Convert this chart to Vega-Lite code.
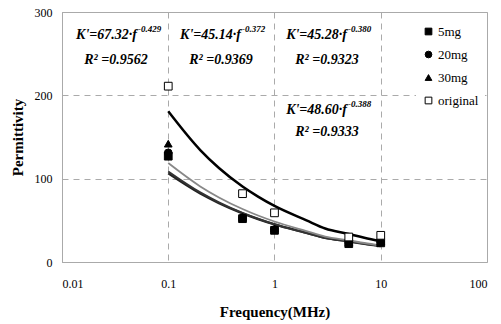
{
  "$schema": "https://vega.github.io/schema/vega-lite/v6.json",
  "width": 425,
  "height": 250,
  "autosize": "none",
  "padding": {"left": 62, "top": 12, "right": 14, "bottom": 62},
  "background": "white",
  "config": {
    "font": "Liberation Serif, Times New Roman, DejaVu Serif, serif",
    "view": {"stroke": "#aaaaaa", "strokeWidth": 1},
    "axis": {"domainColor": "#aaaaaa", "gridColor": "#aaaaaa", "gridDash": [6, 5], "ticks": false, "labelFont": "Liberation Serif, Times New Roman, serif", "labelFontSize": 12, "labelColor": "black", "titleFont": "Liberation Serif, Times New Roman, serif", "titleFontSize": 15, "titleFontWeight": "bold", "titleColor": "black"},
    "legend": {"labelFont": "Liberation Serif, Times New Roman, serif", "labelFontSize": 13, "labelColor": "black"}
  },
  "datasets": {
    "points": [
      {"series": "5mg", "f": 0.1, "v": 127}, {"series": "5mg", "f": 0.5, "v": 52}, {"series": "5mg", "f": 1, "v": 38}, {"series": "5mg", "f": 5, "v": 22}, {"series": "5mg", "f": 10, "v": 23},
      {"series": "20mg", "f": 0.1, "v": 131}, {"series": "20mg", "f": 0.5, "v": 53}, {"series": "20mg", "f": 1, "v": 39}, {"series": "20mg", "f": 5, "v": 23}, {"series": "20mg", "f": 10, "v": 24},
      {"series": "30mg", "f": 0.1, "v": 142}, {"series": "30mg", "f": 0.5, "v": 54}, {"series": "30mg", "f": 1, "v": 40}, {"series": "30mg", "f": 5, "v": 24}, {"series": "30mg", "f": 10, "v": 25},
      {"series": "original", "f": 0.1, "v": 211}, {"series": "original", "f": 0.5, "v": 82}, {"series": "original", "f": 1, "v": 59}, {"series": "original", "f": 5, "v": 30}, {"series": "original", "f": 10, "v": 32}
    ],
    "fits": [
      {"curve": "A", "f": 0.1, "v": 180.8}, {"curve": "A", "f": 0.2, "v": 134.3}, {"curve": "A", "f": 0.3, "v": 112.8}, {"curve": "A", "f": 0.5, "v": 90.6}, {"curve": "A", "f": 0.7, "v": 78.5}, {"curve": "A", "f": 1, "v": 67.3}, {"curve": "A", "f": 2, "v": 50.0}, {"curve": "A", "f": 3, "v": 40.2}, {"curve": "A", "f": 5, "v": 33.7}, {"curve": "A", "f": 7, "v": 29.2}, {"curve": "A", "f": 10, "v": 25.1},
      {"curve": "B", "f": 0.1, "v": 106.3}, {"curve": "B", "f": 0.2, "v": 82.1}, {"curve": "B", "f": 0.3, "v": 70.6}, {"curve": "B", "f": 0.5, "v": 58.4}, {"curve": "B", "f": 0.7, "v": 51.5}, {"curve": "B", "f": 1, "v": 45.1}, {"curve": "B", "f": 2, "v": 34.9}, {"curve": "B", "f": 3, "v": 28.8}, {"curve": "B", "f": 5, "v": 24.8}, {"curve": "B", "f": 7, "v": 21.9}, {"curve": "B", "f": 10, "v": 19.2},
      {"curve": "C", "f": 0.1, "v": 108.6}, {"curve": "C", "f": 0.2, "v": 83.5}, {"curve": "C", "f": 0.3, "v": 71.6}, {"curve": "C", "f": 0.5, "v": 58.9}, {"curve": "C", "f": 0.7, "v": 51.9}, {"curve": "C", "f": 1, "v": 45.3}, {"curve": "C", "f": 2, "v": 34.8}, {"curve": "C", "f": 3, "v": 28.7}, {"curve": "C", "f": 5, "v": 24.6}, {"curve": "C", "f": 7, "v": 21.6}, {"curve": "C", "f": 10, "v": 18.9},
      {"curve": "D", "f": 0.1, "v": 118.7}, {"curve": "D", "f": 0.2, "v": 90.7}, {"curve": "D", "f": 0.3, "v": 77.5}, {"curve": "D", "f": 0.5, "v": 63.6}, {"curve": "D", "f": 0.7, "v": 55.8}, {"curve": "D", "f": 1, "v": 48.6}, {"curve": "D", "f": 2, "v": 37.1}, {"curve": "D", "f": 3, "v": 30.5}, {"curve": "D", "f": 5, "v": 26.0}, {"curve": "D", "f": 7, "v": 22.8}, {"curve": "D", "f": 10, "v": 19.9}
    ],
    "eqs": [
      {"f": 0.0508, "v": 272.4, "main": "K'=67.32·f", "sup": "-0.429"},
      {"f": 0.4838, "v": 272.4, "main": "K'=45.14·f", "sup": "-0.372"},
      {"f": 4.813, "v": 272.4, "main": "K'=45.28·f", "sup": "-0.380"},
      {"f": 4.813, "v": 182.4, "main": "K'=48.60·f", "sup": "-0.388"}
    ],
    "r2": [
      {"f": 0.0322, "v": 242.4, "text": "R² =0.9562"},
      {"f": 0.3137, "v": 242.4, "text": "R² =0.9369"},
      {"f": 3.12, "v": 242.4, "text": "R² =0.9323"},
      {"f": 3.12, "v": 156, "text": "R² =0.9333"}
    ]
  },
  "layer": [
    {
      "data": {"name": "fits"},
      "mark": {"type": "line", "interpolate": "monotone"},
      "encoding": {
        "x": {"field": "f", "type": "quantitative", "scale": {"type": "log", "domain": [0.01, 100]}, "axis": {"title": "Frequency(MHz)", "values": [0.01, 0.1, 1, 10, 100], "labelExpr": "datum.value >= 1 ? format(datum.value, 'd') : format(datum.value, '.2~f')", "labelPadding": 16, "titlePadding": 15, "domain": true}},
        "y": {"field": "v", "type": "quantitative", "scale": {"domain": [0, 300]}, "axis": {"title": "Permittivity", "values": [0, 100, 200, 300], "labelPadding": 10, "titlePadding": 9}},
        "detail": {"field": "curve"},
        "stroke": {"field": "curve", "type": "nominal", "scale": {"domain": ["A", "B", "C", "D"], "range": ["#000000", "#222222", "#333333", "#888888"]}, "legend": null},
        "strokeWidth": {"field": "curve", "type": "nominal", "scale": {"domain": ["A", "B", "C", "D"], "range": [2.5, 1.8, 1.8, 1.5]}, "legend": null}
      }
    },
    {
      "data": {"name": "points"},
      "mark": {"type": "point", "filled": true, "stroke": "black", "strokeWidth": 1, "opacity": 1, "size": 60},
      "encoding": {
        "x": {"field": "f", "type": "quantitative"},
        "y": {"field": "v", "type": "quantitative"},
        "shape": {"field": "series", "type": "nominal", "scale": {"domain": ["5mg", "20mg", "30mg", "original"], "range": ["square", "circle", "triangle-up", "square"]}, "legend": {"title": null, "orient": "none", "legendX": 354, "legendY": 7, "fillColor": "white", "padding": 6, "rowPadding": 9, "symbolSize": 45, "labelOffset": 3, "symbolStrokeColor": "black", "symbolStrokeWidth": 1, "symbolOpacity": 1, "encode": {"symbols": {"update": {"stroke": {"value": "black"}, "strokeWidth": {"value": 1}}}}}},
        "fill": {"field": "series", "type": "nominal", "scale": {"domain": ["5mg", "20mg", "30mg", "original"], "range": ["black", "black", "black", "white"]}, "legend": {"title": null, "orient": "none", "legendX": 354, "legendY": 7, "fillColor": "white", "padding": 6, "rowPadding": 9, "symbolSize": 45, "labelOffset": 3, "symbolStrokeColor": "black", "symbolStrokeWidth": 1, "symbolOpacity": 1, "encode": {"symbols": {"update": {"stroke": {"value": "black"}, "strokeWidth": {"value": 1}}}}}}
      }
    },
    {
      "data": {"name": "eqs"},
      "mark": {"type": "text", "align": "right", "baseline": "middle", "font": "Liberation Serif, Times New Roman, serif", "fontSize": 14, "fontWeight": "bold", "fontStyle": "italic", "color": "black"},
      "encoding": {"x": {"field": "f", "type": "quantitative"}, "y": {"field": "v", "type": "quantitative"}, "text": {"field": "main"}}
    },
    {
      "data": {"name": "eqs"},
      "mark": {"type": "text", "align": "left", "baseline": "middle", "dx": 1, "dy": -6, "font": "Liberation Serif, Times New Roman, serif", "fontSize": 9, "fontWeight": "bold", "fontStyle": "italic", "color": "black"},
      "encoding": {"x": {"field": "f", "type": "quantitative"}, "y": {"field": "v", "type": "quantitative"}, "text": {"field": "sup"}}
    },
    {
      "data": {"name": "r2"},
      "mark": {"type": "text", "align": "center", "baseline": "middle", "font": "Liberation Serif, Times New Roman, serif", "fontSize": 14, "fontWeight": "bold", "fontStyle": "italic", "color": "black"},
      "encoding": {"x": {"field": "f", "type": "quantitative"}, "y": {"field": "v", "type": "quantitative"}, "text": {"field": "text"}}
    }
  ]
}
